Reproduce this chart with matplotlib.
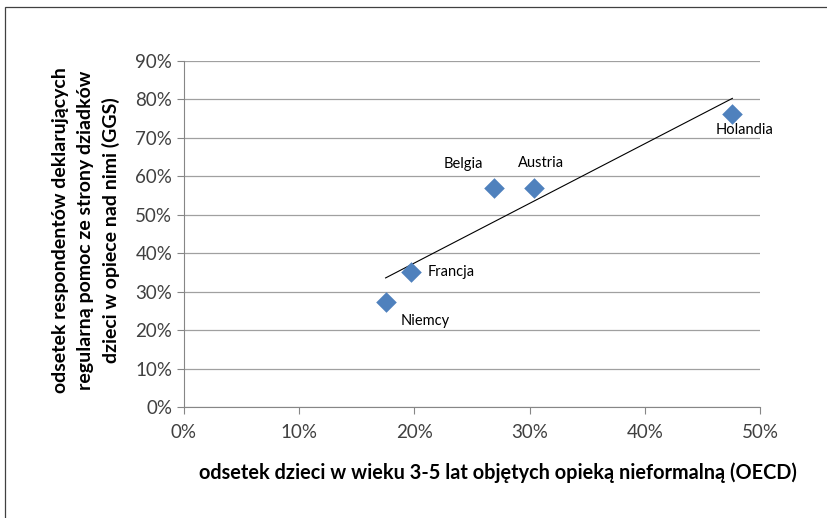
import matplotlib.pyplot as plt
from matplotlib.patches import Rectangle
from matplotlib.ticker import PercentFormatter
import numpy as np

plt.rcParams['font.family'] = ['Lato', 'DejaVu Sans']

# data (percent)
countries = ['Niemcy', 'Francja', 'Belgia', 'Austria', 'Holandia']
informal_care = [17.5, 19.7, 26.9, 30.4, 47.6]
grandparent_help = [27.3, 35.1, 57.0, 57.0, 76.2]
label_offsets = [(40, -19), (40, 0), (-31, 24), (7, 25), (12, -16)]

fig = plt.figure(figsize=(8.28, 5.18), dpi=100)
ax = fig.add_axes([0.2222, 0.2143, 0.9179 - 0.2222, 0.8822 - 0.2143])

# outer frame (like the Excel chart area border)
fig.patches.append(Rectangle((5 / 828, -0.1), 1.2, 1 - 7 / 518 + 0.1,
                             transform=fig.transFigure, fill=False,
                             edgecolor='#404040', lw=0.9))

ax.scatter(informal_care, grandparent_help, marker='D', s=110,
           color='#4F81BD', zorder=3, linewidths=0)

# linear trend line
slope, icpt = np.polyfit(informal_care, grandparent_help, 1)
xs = np.array([min(informal_care), max(informal_care)])
ax.plot(xs, slope * xs + icpt, color='black', lw=0.8, zorder=2)

for name, x, y, (dx, dy) in zip(countries, informal_care, grandparent_help, label_offsets):
    ax.annotate(name, (x, y), xytext=(dx * 0.72, dy * 0.72),
                textcoords='offset points', ha='center', va='center',
                fontsize=10.5, color='#000000')

ax.set_xlim(0, 50)
ax.set_ylim(0, 90)
ax.set_xticks(range(0, 51, 10))
ax.set_yticks(range(0, 91, 10))
ax.xaxis.set_major_formatter(PercentFormatter(decimals=0))
ax.yaxis.set_major_formatter(PercentFormatter(decimals=0))
ax.grid(axis='y', color='#A0A0A0', lw=0.9)
ax.set_axisbelow(True)

for s in ['top', 'right']:
    ax.spines[s].set_visible(False)
for s in ['left', 'bottom']:
    ax.spines[s].set_color('#868686')
ax.tick_params(axis='both', colors='#868686', labelcolor='#404040',
               labelsize=13.5, length=5, direction='out')
ax.tick_params(axis='x', pad=7)

ax.set_xlabel('odsetek dzieci w wieku 3-5 lat objętych opieką nieformalną (OECD)',
              fontsize=14.3, fontweight='bold')
ax.xaxis.set_label_coords(0.545, -0.159)
ax.set_ylabel('odsetek respondentów deklarujących\nregularną pomoc ze strony dziadków\n'
              'dzieci w opiece nad nimi (GGS)',
              fontsize=14, fontweight='bold', linespacing=1.55)
ax.yaxis.set_label_coords(-0.111, 0.51)

fig.savefig('out.png', dpi=100)
